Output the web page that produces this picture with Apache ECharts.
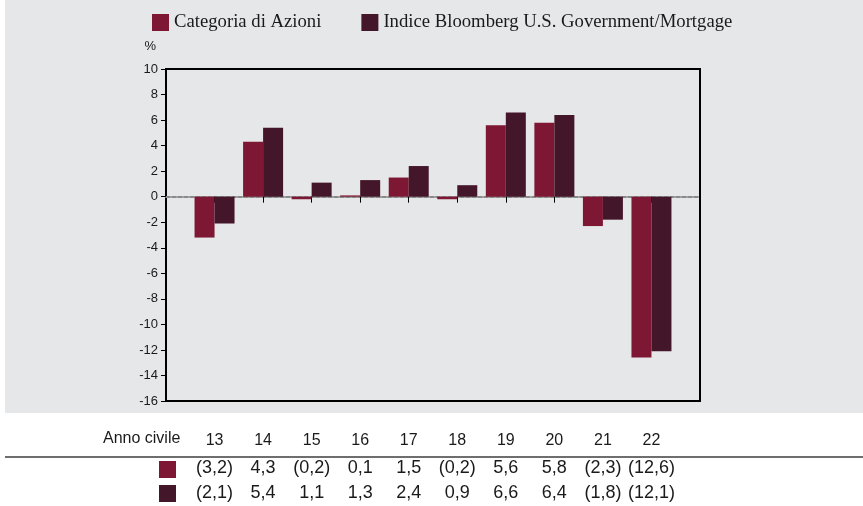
<!DOCTYPE html>
<html>
<head>
<meta charset="utf-8">
<script src="https://cdn.jsdelivr.net/npm/echarts@6/dist/echarts.min.js"></script>
<style>
  html, body { margin: 0; padding: 0; background: #ffffff; }
  #chart { width: 863px; height: 506px; }
</style>
</head>
<body>
<div id="chart"></div>
<script>
// Calendar years (two-digit) and annual returns in percent
const years = [13, 14, 15, 16, 17, 18, 19, 20, 21, 22];
const fundReturns = [-3.2, 4.3, -0.2, 0.1, 1.5, -0.2, 5.6, 5.8, -2.3, -12.6];
const indexReturns = [-2.1, 5.4, 1.1, 1.3, 2.4, 0.9, 6.6, 6.4, -1.8, -12.1];
const seriesNames = ['Categoria di Azioni', 'Indice Bloomberg U.S. Government/Mortgage'];
const yTicks = { min: -16, max: 10, step: 2 };

const colorFund = '#7d1733';
const colorIndex = '#44162a';
const sans = '"Liberation Sans", Arial, sans-serif';
const serif = '"Liberation Serif", "Times New Roman", serif';

// Italian style: comma decimal, negatives in parentheses
function fmt(v) {
  const s = Math.abs(v).toFixed(1).replace('.', ',');
  return v < 0 ? '(' + s + ')' : s;
}
function lookup(arr) {
  return function (v) {
    const i = years.indexOf(Math.round(v));
    return i < 0 ? '' : fmt(arr[i]);
  };
}

const xBase = { type: 'value', min: years[0] - 1, max: years[years.length - 1] + 1, interval: 1, gridIndex: 0 };

const chart = echarts.init(document.getElementById('chart'), null, { renderer: 'canvas' });
chart.setOption({
  animation: false,
  backgroundColor: '#ffffff',
  legend: {
    left: 147, top: 8,
    icon: 'rect', itemWidth: 17, itemHeight: 17, itemGap: 40,
    textStyle: { fontFamily: serif, fontSize: 18.7, color: '#1a1a1a' },
    data: seriesNames
  },
  grid: {
    left: 166, right: 163, top: 69, bottom: 105,
    show: true, borderColor: '#000', borderWidth: 2, backgroundColor: 'transparent'
  },
  graphic: [
    { type: 'rect', z: -100, shape: { x: 5, y: 0, width: 858, height: 413 }, style: { fill: '#e6e7e9' } },
    { type: 'line', shape: { x1: 5, y1: 457, x2: 863, y2: 457 }, style: { stroke: '#6e6e6e', lineWidth: 2 } },
    { type: 'text', left: 103, top: 431, style: { text: 'Anno civile', font: '16px ' + sans, fill: '#1a1a1a' } },
    { type: 'rect', shape: { x: 159, y: 461, width: 17, height: 17 }, style: { fill: colorFund } },
    { type: 'rect', shape: { x: 159, y: 485, width: 17, height: 17 }, style: { fill: colorIndex } }
  ],
  xAxis: [
    Object.assign({}, xBase, {
      axisLine: { onZero: true, lineStyle: { color: '#8a8a8a', width: 2, type: [4, 2] } },
      axisTick: { customValues: years, length: 6, lineStyle: { color: '#000', width: 1 } },
      axisLabel: { show: false },
      splitLine: { show: false }
    }),
    Object.assign({}, xBase, {
      position: 'bottom', offset: 24,
      axisLine: { show: false, onZero: false }, axisTick: { show: false }, splitLine: { show: false },
      axisLabel: { customValues: years, margin: 8, fontSize: 16, fontFamily: sans, color: '#1a1a1a' }
    }),
    Object.assign({}, xBase, {
      position: 'bottom', offset: 50,
      axisLine: { show: false, onZero: false }, axisTick: { show: false }, splitLine: { show: false },
      axisLabel: { customValues: years, margin: 8, fontSize: 18, fontFamily: sans, color: '#1a1a1a', formatter: lookup(fundReturns) }
    }),
    Object.assign({}, xBase, {
      position: 'bottom', offset: 75,
      axisLine: { show: false, onZero: false }, axisTick: { show: false }, splitLine: { show: false },
      axisLabel: { customValues: years, margin: 8, fontSize: 18, fontFamily: sans, color: '#1a1a1a', formatter: lookup(indexReturns) }
    })
  ],
  yAxis: {
    type: 'value', min: yTicks.min, max: yTicks.max, interval: yTicks.step,
    name: '%', nameLocation: 'end', nameGap: 16,
    nameTextStyle: { fontFamily: sans, fontSize: 13, color: '#1a1a1a', align: 'right', padding: [0, 10, 0, 0] },
    axisLine: { show: false },
    axisTick: { show: true, length: 5, lineStyle: { color: '#000', width: 1 } },
    axisLabel: { fontFamily: sans, fontSize: 13, color: '#1a1a1a', margin: 8 },
    splitLine: { show: false }
  },
  series: [
    {
      name: seriesNames[0], type: 'bar', xAxisIndex: 0,
      barWidth: 20, barGap: '0%',
      itemStyle: { color: colorFund },
      data: years.map((y, i) => [y, fundReturns[i]])
    },
    {
      name: seriesNames[1], type: 'bar', xAxisIndex: 0,
      barWidth: 20, barGap: '0%',
      itemStyle: { color: colorIndex },
      data: years.map((y, i) => [y, indexReturns[i]])
    }
  ]
});
</script>
</body>
</html>
